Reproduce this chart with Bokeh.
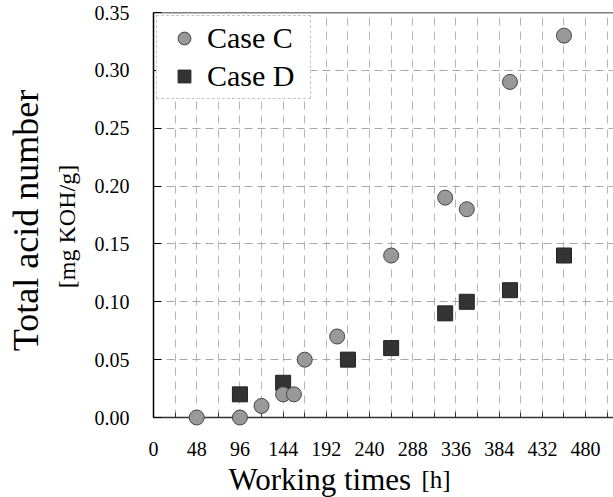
import math
from bokeh.plotting import figure
from bokeh.models import (Range1d, SingleIntervalTicker, Legend, LegendItem,
                          Span, FixedTicker)
from bokeh.core.properties import value
from bokeh.embed import file_html
from bokeh.resources import INLINE

# ---- data ----
case_c_hours = [48, 96, 120, 144, 156, 168, 204, 264, 324, 348, 396, 456]
case_c_tan = [0.00, 0.00, 0.01, 0.02, 0.02, 0.05, 0.07, 0.14, 0.19, 0.18, 0.29, 0.33]
case_d_hours = [96, 144, 216, 264, 324, 348, 396, 456]
case_d_tan = [0.02, 0.03, 0.05, 0.06, 0.09, 0.10, 0.11, 0.14]
x_ticks = [0, 48, 96, 144, 192, 240, 288, 336, 384, 432, 480]
y_ticks = [0.00, 0.05, 0.10, 0.15, 0.20, 0.25, 0.30, 0.35]

SERIF = "Liberation Serif"

FRAME_W, FRAME_H = 460, 405
X_END, Y_END = 511, 0.35
p = figure(frame_width=FRAME_W, frame_height=FRAME_H,
           x_range=Range1d(0, X_END), y_range=Range1d(0, Y_END),
           output_backend="svg", toolbar_location=None,
           min_border_left=153, min_border_right=0, min_border_top=12, min_border_bottom=80,
           background_fill_color="white", border_fill_color="white")
p.outline_line_color = None

# grids
p.xgrid.ticker = SingleIntervalTicker(interval=24)
p.xgrid.grid_line_color = "#b5b5b5"
p.xgrid.grid_line_dash = "8 6"
p.xgrid.grid_line_width = 1
p.ygrid.ticker = FixedTicker(ticks=y_ticks)
p.ygrid.grid_line_color = "#a8a8a8"
p.ygrid.grid_line_dash = "8 5"
p.ygrid.grid_line_width = 1

# x axis
xa = p.xaxis[0]
xa.ticker = SingleIntervalTicker(interval=48, num_minor_ticks=2)
xa.axis_line_color = "#333333"
xa.axis_line_width = 1.5
xa.major_tick_in = 5
xa.major_tick_out = 0
xa.minor_tick_in = 5
xa.minor_tick_out = 0
xa.major_tick_line_color = "#333333"
xa.minor_tick_line_color = "#333333"
xa.major_label_text_font = SERIF
xa.major_label_text_font_size = "20px"
xa.major_label_text_color = "black"
xa.major_label_standoff = 24
xa.major_label_overrides = {t: str(t) for t in x_ticks}

# y axis
ya = p.yaxis[0]
ya.ticker = FixedTicker(ticks=y_ticks)
ya.axis_line_color = "black"
ya.axis_line_width = 1.5
ya.major_tick_in = 8
ya.major_tick_out = 0
ya.minor_tick_line_color = None
ya.major_tick_line_color = "black"
ya.major_label_text_font = SERIF
ya.major_label_text_font_size = "20px"
ya.major_label_text_color = "black"
ya.major_label_standoff = 24
ya.major_label_overrides = {t: f"{t:.2f}" for t in y_ticks}

# top border
p.add_layout(Span(location=Y_END, dimension="width", line_color="black", line_width=1.5))

# markers (squares first, circles on top); overlay level so they are not clipped at 0
rd = p.scatter(case_d_hours, case_d_tan, marker="square", size=15,
               fill_color="#333333", line_color="#222222", line_width=1, level="overlay")
rc = p.scatter(case_c_hours, case_c_tan, marker="circle", size=15,
               fill_color="#999999", line_color="#444444", line_width=1, level="overlay")

legend = Legend(items=[LegendItem(label="Case C", renderers=[rc]),
                       LegendItem(label="Case D", renderers=[rd])],
                location="top_left", margin=3, padding=5, spacing=4,
                glyph_width=44, glyph_height=32, label_height=32, label_width=98,
                label_standoff=1,
                label_text_font=SERIF, label_text_font_size="30px",
                label_text_color="black",
                border_line_color="#8c8c8c", border_line_dash="8 4", border_line_width=1,
                background_fill_color="white", background_fill_alpha=1.0)
p.add_layout(legend)

# axis titles (mixed sizes) drawn as unclipped text; pixel positions -> data units
LEFT, TOP = 153, 12
def dx(px):
    return (px - LEFT) * X_END / FRAME_W
def dy(py):
    return (TOP + FRAME_H - py) * Y_END / FRAME_H

def title_text(px, py, txt, size, angle=0.0, align="left", baseline="alphabetic"):
    p.text(x=[dx(px)], y=[dy(py)], text=[txt], angle=angle,
           text_font=value(SERIF), text_font_size=value(size), text_color="black",
           text_align=align, text_baseline=baseline, level="overlay")

title_text(25, 220, "Total acid number", "36px", angle=math.pi / 2,
           align="center", baseline="middle")
title_text(66, 226, "[mg KOH/g]", "24px", angle=math.pi / 2,
           align="center", baseline="middle")
title_text(228, 479, "Working times", "31px")
title_text(421, 479, "[h]", "25px")

open("out.html", "w").write(file_html(p, INLINE))
